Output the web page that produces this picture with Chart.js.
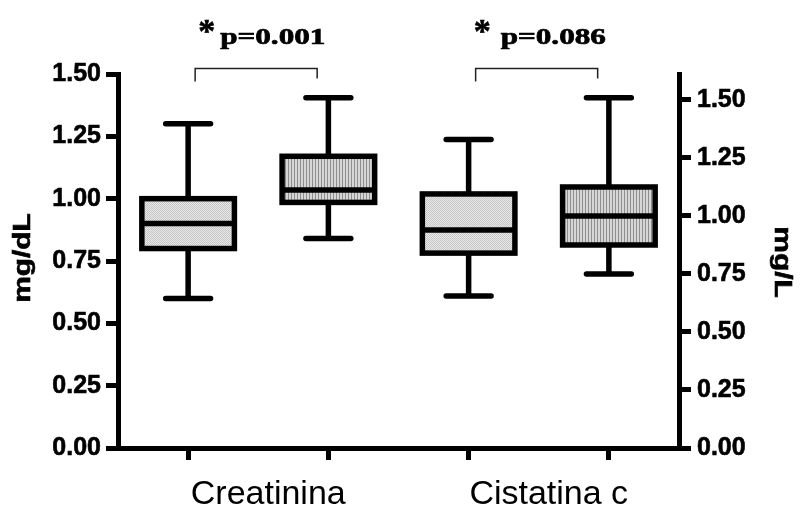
<!DOCTYPE html>
<html>
<head>
<meta charset="utf-8">
<script src="https://cdn.jsdelivr.net/npm/chart.js@4.4.0/dist/chart.umd.min.js"></script>
<style>
  html, body { margin: 0; padding: 0; background: #fff; }
  #wrap { width: 803px; height: 507px; }
</style>
</head>
<body>
<div id="wrap"><canvas id="myChart" width="803" height="507"></canvas></div>
<script>
// group names under the x axis
const groupLabels = ["Creatinina", "Cistatina c"];
// one slot per box, two boxes per group
const boxSlots = ["Creatinina 1", "Creatinina 2", "Cistatina c 1", "Cistatina c 2"];

// box plot values
// (creatinina on the left axis in mg/dL, cistatina c on the right axis in mg/L)
const whiskerMin = [0.60, 0.84, 0.655, 0.75];
const q1         = [0.80, 0.985, 0.84, 0.875];
const median     = [0.90, 1.035, 0.94, 1.00];
const q3         = [1.00, 1.17, 1.095, 1.125];
const whiskerMax = [1.30, 1.405, 1.33, 1.51];

// tick labels of both y axes
const tickValues = [0, 0.25, 0.5, 0.75, 1.0, 1.25, 1.5];

// significance labels over each pair
const pStars = ["*", "*"];
const pLabels = ["p=0.001", "p=0.086"];

// axis titles
const leftTitle = "mg/dL";
const rightTitle = "mg/L";

// fill textures: dotted grey and vertical hatch
function makePattern(kind) {
  const c = document.createElement("canvas");
  const g = c.getContext("2d");
  if (kind === "dots") {
    c.width = 2; c.height = 2;
    g.fillStyle = "#e8e8e8"; g.fillRect(0, 0, 2, 2);
    g.fillStyle = "#c6c6c6"; g.fillRect(0, 0, 1, 1); g.fillRect(1, 1, 1, 1);
  } else {
    c.width = 3; c.height = 1;
    g.fillStyle = "#d6d6d6"; g.fillRect(0, 0, 3, 1);
    g.fillStyle = "#8e8e8e"; g.fillRect(0, 0, 1, 1);
  }
  return g.createPattern(c, "repeat");
}
const dots = makePattern("dots");
const stripes = makePattern("stripes");
const fills = [dots, stripes, dots, stripes];

// floating bars = the boxes (q1..q3)
const creatBoxes = boxSlots.map((_, i) => i < 2 ? [q1[i], q3[i]] : null);
const cistBoxes = boxSlots.map((_, i) => i >= 2 ? [q1[i], q3[i]] : null);

// whiskers, medians and box outlines drawn through the scales
const boxPlot = {
  id: "boxPlot",
  afterDatasetsDraw(chart) {
    const ctx = chart.ctx;
    const xs = chart.scales.x;
    const band = xs.width / boxSlots.length;
    const cap = band * 0.16;
    ctx.save();
    ctx.strokeStyle = "#000";
    chart.data.datasets.forEach((ds, di) => {
      const meta = chart.getDatasetMeta(di);
      const ys = chart.scales[ds.yAxisID];
      ds.data.forEach((v, i) => {
        if (!v) return;
        const bar = meta.data[i];
        const cx = bar.x, half = bar.width / 2;
        const pTop = ys.getPixelForValue(q3[i]);
        const pBot = ys.getPixelForValue(q1[i]);
        const pMed = ys.getPixelForValue(median[i]);
        const pMax = ys.getPixelForValue(whiskerMax[i]);
        const pMin = ys.getPixelForValue(whiskerMin[i]);

        ctx.lineWidth = 5.5;
        ctx.lineCap = "butt";
        ctx.beginPath();
        ctx.moveTo(cx, pTop); ctx.lineTo(cx, pMax);
        ctx.moveTo(cx, pBot); ctx.lineTo(cx, pMin);
        ctx.stroke();

        ctx.lineCap = "round";
        ctx.beginPath();
        ctx.moveTo(cx - cap, pMax); ctx.lineTo(cx + cap, pMax);
        ctx.moveTo(cx - cap, pMin); ctx.lineTo(cx + cap, pMin);
        ctx.stroke();

        ctx.lineCap = "butt";
        ctx.lineJoin = "miter";
        ctx.strokeRect(cx - half, pTop, half * 2, pBot - pTop);
        ctx.beginPath();
        ctx.moveTo(cx - half, pMed); ctx.lineTo(cx + half, pMed);
        ctx.stroke();
      });
    });
    ctx.restore();
  }
};

// fill + thin stroke so the text reads as heavy as in the original
function heavyText(ctx, text, x, y, w) {
  ctx.fillText(text, x, y);
  ctx.lineWidth = w;
  ctx.strokeText(text, x, y);
}

// brackets, p values and the (stretched) axis titles
const annotations = {
  id: "annotations",
  afterDraw(chart) {
    const { ctx, chartArea } = chart;
    const xs = chart.scales.x;
    ctx.save();
    ctx.fillStyle = "#000";

    pLabels.forEach((label, k) => {
      const a = xs.getPixelForValue(2 * k + 0.05);
      const b = xs.getPixelForValue(2 * k + 0.92);
      const yb = chartArea.top - 5.5;
      ctx.strokeStyle = "#222";
      ctx.lineWidth = 1.5;
      ctx.lineCap = "butt";
      ctx.beginPath();
      ctx.moveTo(a, yb + 13); ctx.lineTo(a, yb); ctx.lineTo(b, yb); ctx.lineTo(b, yb + 10);
      ctx.stroke();

      ctx.strokeStyle = "#000";
      const tx = xs.getPixelForValue(2 * k) + (k === 0 ? 10 : 5);
      ctx.textAlign = "left";
      ctx.textBaseline = "alphabetic";
      ctx.font = "bold 34px 'Liberation Serif'";
      heavyText(ctx, pStars[k], tx, 42, 0.6);
      ctx.save();
      ctx.translate(tx + (k === 0 ? 22 : 27), 44);
      ctx.scale(1.3, 1);
      ctx.font = "bold 24px 'Liberation Serif'";
      heavyText(ctx, label, 0, 0, 0.7);
      ctx.restore();
    });

    ctx.strokeStyle = "#000";
    ctx.font = "bold 23px 'Liberation Sans'";
    ctx.textAlign = "center";
    ctx.textBaseline = "middle";
    ctx.save();
    ctx.translate(24, 258);
    ctx.rotate(-Math.PI / 2);
    ctx.scale(1.3, 1);
    heavyText(ctx, leftTitle, 0, 0, 0.6);
    ctx.restore();

    ctx.save();
    ctx.translate(781, 262);
    ctx.rotate(Math.PI / 2);
    ctx.scale(1.3, 1);
    heavyText(ctx, rightTitle, 0, 0, 0.6);
    ctx.restore();

    ctx.restore();
  }
};

const tickFont = { family: "'Liberation Sans'", size: 25, weight: "bold" };
const setTicks = s => { s.ticks = tickValues.map(v => ({ value: v })); };

new Chart(document.getElementById("myChart"), {
  type: "bar",
  data: {
    labels: boxSlots,
    datasets: [
      { label: "Creatinina", data: creatBoxes, yAxisID: "y", backgroundColor: fills,
        borderWidth: 0, grouped: false, barPercentage: 0.66, categoryPercentage: 1 },
      { label: "Cistatina c", data: cistBoxes, yAxisID: "y2", backgroundColor: fills,
        borderWidth: 0, grouped: false, barPercentage: 0.66, categoryPercentage: 1 }
    ]
  },
  options: {
    responsive: false,
    animation: false,
    events: [],
    layout: { padding: { top: 74, left: 0, right: 0, bottom: 0 } },
    plugins: { legend: { display: false }, tooltip: { enabled: false } },
    scales: {
      x: {
        type: "category",
        position: "bottom",
        weight: 0,
        offset: true,
        grid: { display: true, drawOnChartArea: false, offset: false, tickLength: 12, lineWidth: 5, color: "#000" },
        border: { display: true, width: 5, color: "#000" },
        ticks: { display: false },
        afterFit: s => { s.height = 12; }
      },
      x2: {
        type: "category",
        position: "bottom",
        weight: 1,
        labels: groupLabels,
        offset: true,
        grid: { display: false, drawTicks: false },
        border: { display: false },
        ticks: { color: "#000", padding: 14, labelOffset: 10, maxRotation: 0,
                 font: { family: "'Liberation Sans'", size: 34 } },
        afterFit: s => { s.height = 47; }
      },
      y: {
        position: "left",
        min: 0,
        max: 1.5,
        afterBuildTicks: setTicks,
        grid: { drawOnChartArea: false, tickLength: 12, lineWidth: 5, color: "#000" },
        border: { display: true, width: 5, color: "#000" },
        ticks: { color: "#000", padding: 5, font: tickFont, textStrokeColor: "#000", textStrokeWidth: 0.6,
                 callback: v => v.toFixed(2) },
        afterFit: s => { s.width = 118; }
      },
      y2: {
        position: "right",
        min: 0,
        max: 1.612,
        afterBuildTicks: setTicks,
        grid: { drawOnChartArea: false, tickLength: 12, lineWidth: 5, color: "#000" },
        border: { display: true, width: 5, color: "#000" },
        ticks: { color: "#000", padding: 6, font: tickFont, textStrokeColor: "#000", textStrokeWidth: 0.6,
                 callback: v => v.toFixed(2) },
        afterFit: s => { s.width = 124; }
      }
    }
  },
  plugins: [boxPlot, annotations]
});
</script>
</body>
</html>
